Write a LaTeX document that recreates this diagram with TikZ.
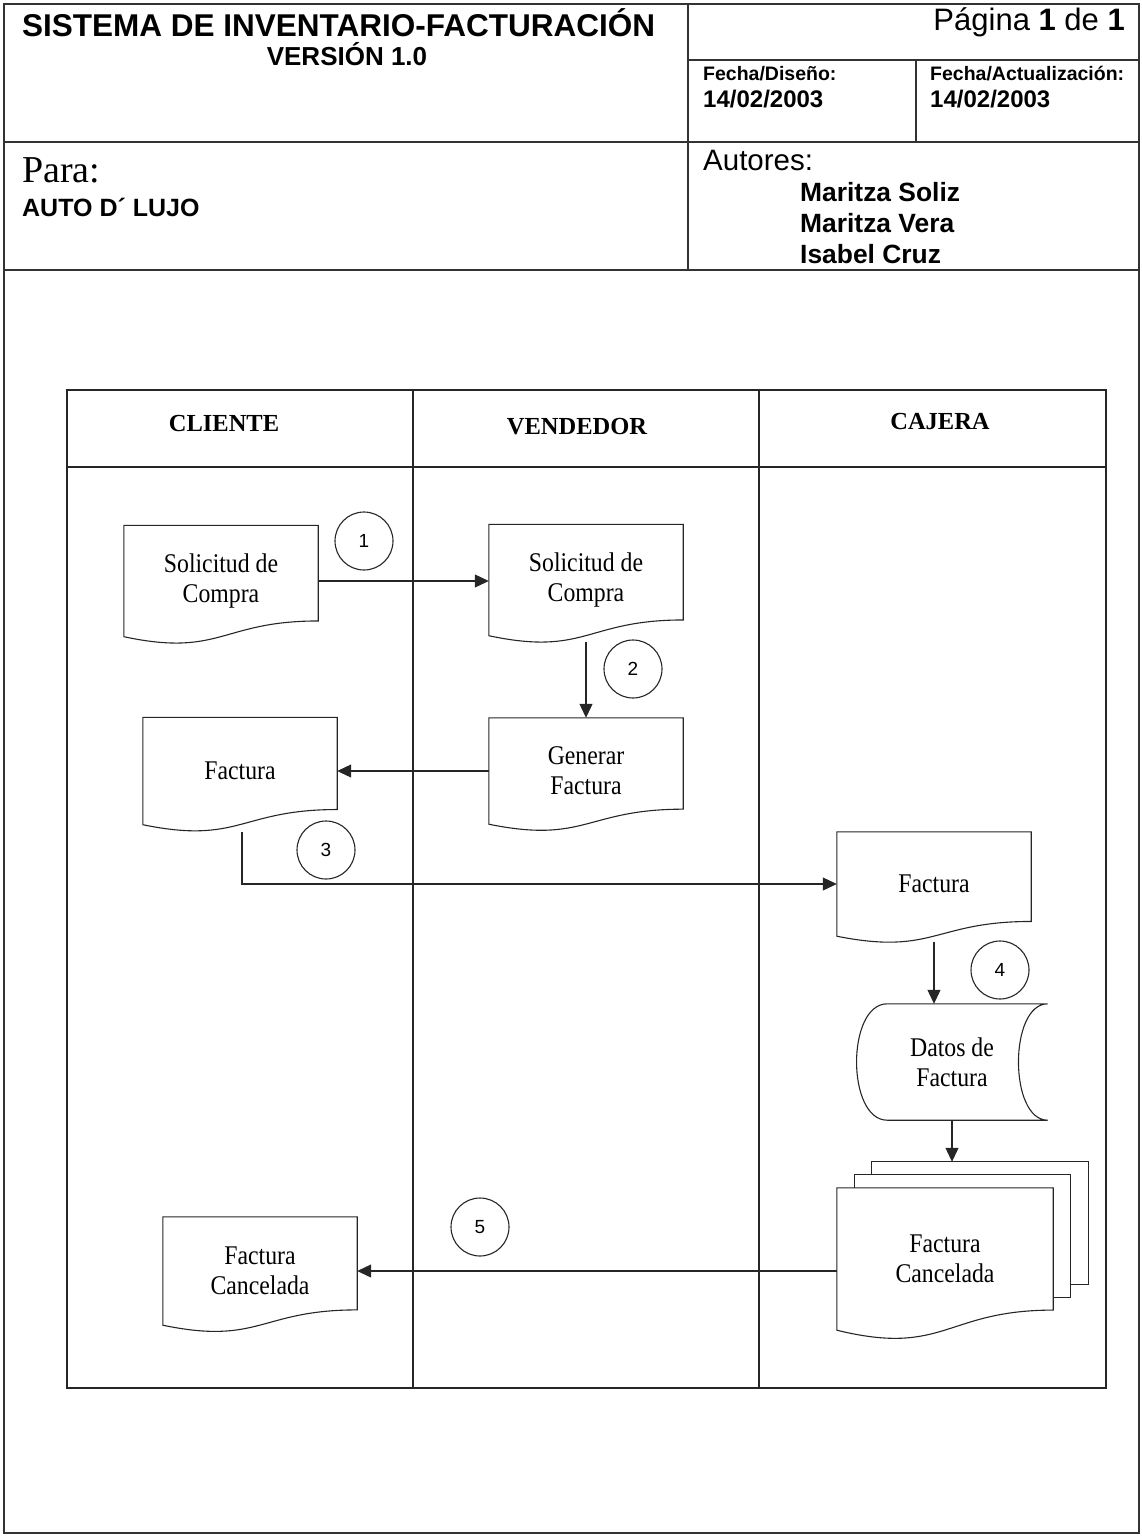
\documentclass[tikz,border=0pt]{standalone}
\usepackage{fontspec}
\setmainfont{Liberation Serif}
\setsansfont{Liberation Sans}
\newfontfamily\lblfont{Liberation Serif}[FakeStretch=0.88]
\usepackage{tikz}
\usetikzlibrary{arrows.meta, calc, positioning}

% document outline with a wavy bottom (node box ends at the lower left corner)
\newcommand{\docshape}[1]{%
  \draw[outline] let \p1=(#1.north west), \p2=(#1.south east) in
    (\x1,\y1) -- (\x2,\y1) -- (\x2,{\y1+0.8587*(\y2-\y1)})
    .. controls ({(\x1+\x2)/2},{\y1+0.8587*(\y2-\y1)}) and ({(\x1+\x2)/2},{\y1+1.1858*(\y2-\y1)}) .. (\x1,\y2)
    -- cycle;}
% two sheets behind a document
\newcommand{\sheets}[1]{%
  \draw[outline] let \p1=(#1.north west), \p2=(#1.south east) in
    ({\x1+18pt},\y1) -- ({\x1+18pt},{\y1+13pt}) -- ({\x2+17pt},{\y1+13pt})
    -- ({\x2+17pt},{\y1+0.8587*(\y2-\y1)+13pt}) -- (\x2,{\y1+0.8587*(\y2-\y1)+13pt});
  \draw[outline] let \p1=(#1.north west), \p2=(#1.south east) in
    ({\x1+35pt},{\y1+13pt}) -- ({\x1+35pt},{\y1+26pt}) -- ({\x2+35pt},{\y1+26pt})
    -- ({\x2+35pt},{\y1+0.8587*(\y2-\y1)+26pt}) -- ({\x2+17pt},{\y1+0.8587*(\y2-\y1)+26pt});}
% stored data outline
\newcommand{\datashape}[1]{%
  \draw[outline] let \p1=(#1.north west), \p2=(#1.south east) in
    ({\x1+31pt},\y1) -- (\x2,\y1)
    .. controls ({\x2-39pt},\y1) and ({\x2-39pt},\y2) .. (\x2,\y2)
    -- ({\x1+31pt},\y2)
    .. controls ({\x1-10pt},\y2) and ({\x1-10pt},\y1) .. ({\x1+31pt},\y1) -- cycle;}

\begin{document}
\begin{tikzpicture}[
    x=1pt, y=-1pt,
    outline/.style={draw=black!85, line width=1.1pt},
    frame/.style={draw=black!80, line width=1.6pt},
    docu/.style={minimum width=194pt, minimum height=108pt, inner sep=0pt,
                 align=center, font=\lblfont\fontsize{27}{30}\selectfont},
    datos/.style={minimum width=191pt, minimum height=116pt, inner sep=0pt,
                  align=center, font=\lblfont\fontsize{27}{30}\selectfont},
    lane/.style={font=\bfseries\fontsize{24.5}{28}\selectfont},
    numcircle/.style={circle, draw=black!85, line width=1.1pt, minimum size=58pt,
                      inner sep=0pt, font=\sffamily\fontsize{19}{19}\selectfont},
    hdr/.style={anchor=base west, inner sep=0pt, font=\sffamily\bfseries\fontsize{24}{28}\selectfont},
    arrow/.style={-{Triangle[length=14pt, width=13pt]}, draw=black!85, line width=1.1pt}
]
\useasboundingbox (0,0) rectangle (1142,1536);

% Header
\draw[frame] (4,4) rectangle (1139,1533);
\draw[frame] (688,4) -- (688,270);
\draw[frame] (688,60) -- (1139,60);
\draw[frame] (916,60) -- (916,142);
\draw[frame] (4,142) -- (1139,142);
\draw[frame] (4,270) -- (1139,270);

\node (titulo) [hdr, font=\sffamily\bfseries\fontsize{31.5}{34}\selectfont] at (22,37) {SISTEMA DE INVENTARIO-FACTURACIÓN};
\node (version) [hdr, anchor=base, font=\sffamily\bfseries\fontsize{26}{30}\selectfont] at (347,66) {VERSIÓN 1.0};
\node (pagina) [hdr, anchor=base east, font=\sffamily\fontsize{31}{34}\selectfont] at (1125,31) {Página \textbf{1} de \textbf{1}};
\node (fdis) [hdr, font=\sffamily\bfseries\fontsize{19.5}{22}\selectfont] at (703,81) {Fecha/Diseño:};
\node (fdisv) [hdr] at (703,108) {14/02/2003};
\node (fact) [hdr, font=\sffamily\bfseries\fontsize{19.5}{22}\selectfont] at (930,81) {Fecha/Actualización:};
\node (factv) [hdr] at (930,108) {14/02/2003};
\node (para) [hdr, font=\rmfamily\fontsize{38}{40}\selectfont] at (22,182) {Para:};
\node (empresa) [hdr, font=\sffamily\bfseries\fontsize{25}{28}\selectfont] at (22,216) {AUTO D´ LUJO};
\node (autores) [hdr, font=\sffamily\fontsize{29.5}{32}\selectfont] at (703,170) {Autores:};
\node (autor1) [hdr, font=\sffamily\bfseries\fontsize{26.4}{30}\selectfont] at (800,201) {Maritza Soliz};
\node (autor2) [hdr, font=\sffamily\bfseries\fontsize{26.4}{30}\selectfont] at (800,232) {Maritza Vera};
\node (autor3) [hdr, font=\sffamily\bfseries\fontsize{26.4}{30}\selectfont] at (800,263) {Isabel Cruz};

% Lanes
\draw[outline] (67,390) rectangle (1106,1388);
\draw[outline] (67,467) -- (1106,467);
\draw[outline] (413,390) -- (413,1388);
\draw[outline] (759,390) -- (759,1388);
\node (cliente) [lane] at (224,424) {CLIENTE};
\node (vendedor) [lane] at (577,427) {VENDEDOR};
\node (cajera) [lane] at (940,422) {CAJERA};

% Documents
\node (sol1) [docu, minimum height=111pt] at (221,581) {Solicitud de\\Compra};
\node (sol2) [docu, minimum height=111pt] at (586,580) {Solicitud de\\Compra};
\node (gen) [docu, minimum height=106pt] at (586,771) {Generar\\Factura};
\node (fac1) [docu, minimum height=107pt] at (240,771) {Factura};
\node (fac3) [docu, minimum height=104pt] at (934,884) {Factura};
\node (datos) [datos] at (952,1062) {Datos de\\Factura};
\node (canc2) [docu, minimum width=216pt, minimum height=142pt] at (945,1259) {Factura\\Cancelada};
\node (canc1) [docu, minimum height=108pt] at (260,1271) {Factura\\Cancelada};
\foreach \d in {sol1, sol2, gen, fac1, fac3, canc2, canc1} {\docshape{\d}}
\sheets{canc2}
\datashape{datos}
\coordinate (pila) at ([yshift=26pt]canc2.north);

% Steps
\node (n1) [numcircle] at (364,541) {1};
\node (n2) [numcircle] at (633,669) {2};
\node (n3) [numcircle] at (326,850) {3};
\node (n4) [numcircle] at (1000,970) {4};
\node (n5) [numcircle] at (480,1227) {5};

% Arrows
\draw [arrow] (sol1.east) -- (sol1.east -| sol2.west);
\draw [arrow] ([yshift=-6pt]sol2.south) -- (gen.north);
\draw [arrow] (gen.west) -- (gen.west -| fac1.east);
\draw [arrow] ([xshift=2pt,yshift=-7pt]fac1.south) |- (fac3.west);
\draw [arrow] ([yshift=-6pt]fac3.south) -- (fac3.south |- datos.north);
\draw [arrow] (datos.south) -- (datos.south |- pila);
\draw [arrow] (canc1.east -| canc2.west) -- (canc1.east);

\end{tikzpicture}
\end{document}
